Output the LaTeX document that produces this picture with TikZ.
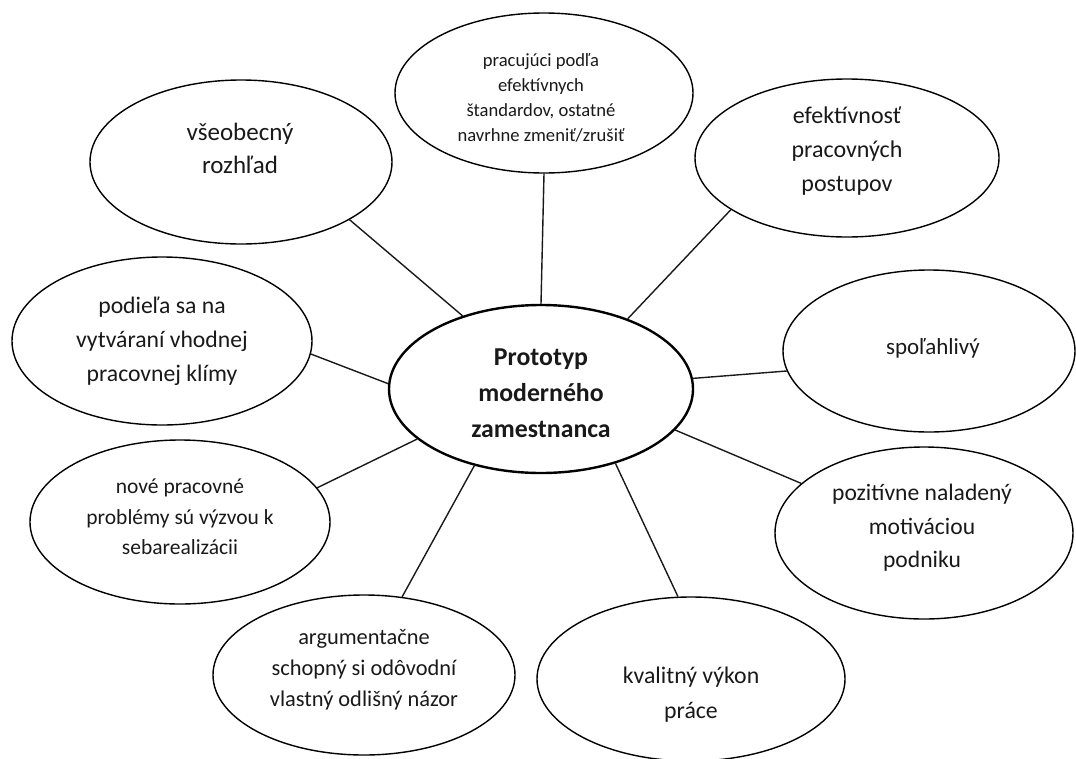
\documentclass[tikz,border=0pt]{standalone}
\usepackage{fontspec}
\setmainfont{Carlito}
\usetikzlibrary{shapes.geometric}
\tikzset{
  ell/.style={ellipse, draw=black, line width=1.4pt, inner sep=0pt},
  mainell/.style={ellipse, draw=black, line width=2.4pt, inner sep=0pt},
  txt/.style={align=center, inner sep=0pt, text=black!90},
  conn/.style={draw=black!90, line width=1.4pt}
}
\newcommand{\fs}[2]{\fontsize{#1}{#2}\selectfont}
\begin{document}
\begin{tikzpicture}[x=1pt,y=-1pt]
\useasboundingbox (0,0) rectangle (1076,758);
% ellipses
\node[mainell, minimum width=304pt, minimum height=168pt] (C) at (541,389) {};
\node[ell, minimum width=298pt, minimum height=160pt] (T) at (544,93) {};
\node[ell, minimum width=302pt, minimum height=164pt] (V) at (241,162) {};
\node[ell, minimum width=304pt, minimum height=158pt] (E) at (847,158) {};
\node[ell, minimum width=300pt, minimum height=168pt] (P) at (162,341) {};
\node[ell, minimum width=292pt, minimum height=162pt] (S) at (929,351) {};
\node[ell, minimum width=300pt, minimum height=164pt] (N) at (180,522) {};
\node[ell, minimum width=298pt, minimum height=172pt] (Z) at (924,533) {};
\node[ell, minimum width=302pt, minimum height=160pt] (A) at (364,675) {};
\node[ell, minimum width=308pt, minimum height=164pt] (K) at (691,679) {};
% texts
\node[txt, font=\bfseries\fs{25.8}{36}] (Ct) at (541,393) {Prototyp\\moderného\\zamestnanca};
\node[txt, font=\fs{18.6}{25}] (Tt) at (541,97.5) {pracujúci podľa\\efektívnych\\štandardov, ostatné\\navrhne zmeniť/zrušiť};
\node[txt, font=\fs{25}{33}] (Vt) at (240,148.5) {všeobecný\\rozhľad};
\node[txt, font=\fs{24}{34}] (Et) at (847,151) {efektívnosť\\pracovných\\postupov};
\node[txt, font=\fs{23.7}{34}] (Pt) at (162,341) {podieľa sa na\\vytváraní vhodnej\\pracovnej klímy};
\node[txt, font=\fs{23}{33}] (St) at (933,348) {spoľahlivý};
\node[txt, font=\fs{21.5}{30.5}] (Nt) at (180,517) {nové pracovné\\problémy sú výzvou k\\sebarealizácii};
\node[txt, font=\fs{23.6}{33.5}] (Zt) at (922,528) {pozitívne naladený\\motiváciou\\podniku};
\node[txt, font=\fs{22.4}{31}] (At) at (364,670) {argumentačne\\schopný si odôvodní\\vlastný odlišný názor};
\node[txt, font=\fs{23.8}{35}] (Kt) at (691,695) {kvalitný výkon\\práce};
% connectors
\draw[conn] (C.137.7) -- (V.-28.7);
\draw[conn] (C.90) -- (T.-90);
\draw[conn] (C.39.8) -- (E.204.3);
\draw[conn] (C.178.5) -- (P.-5.4);
\draw[conn] (C.4.2) -- (S.188.1);
\draw[conn] (C.-17) -- (Z.158.8);
\draw[conn] (C.-45.7) -- (K.99.7);
\draw[conn] (C.229.5) -- (A.64);
\draw[conn] (C.202.7) -- (N.14.5);
\end{tikzpicture}
\end{document}
